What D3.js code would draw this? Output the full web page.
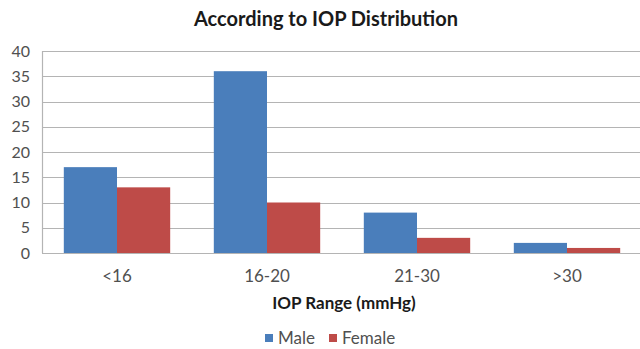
<!DOCTYPE html>
<html>
<head>
<meta charset="utf-8">
<script src="https://cdn.jsdelivr.net/npm/d3@7"></script>
<style>
  html, body { margin: 0; padding: 0; background: #fff; }
  svg { display: block; font-family: Lato, "Open Sans", sans-serif; }
</style>
</head>
<body>
<svg id="chart" width="640" height="349"></svg>
<script>
// IOP ranges and patient counts by sex
const categories = ["<16", "16-20", "21-30", ">30"];
const seriesNames = ["Male", "Female"];
const maleValues = [17, 36, 8, 2];
const femaleValues = [13, 10, 3, 1];
const yTicks = [0, 5, 10, 15, 20, 25, 30, 35, 40];
const colors = ["#4A7EBB", "#BE4B48"];

const rows = categories.map((c, i) => ({ cat: c, values: [maleValues[i], femaleValues[i]] }));

const svg = d3.select("#chart");
const plotLeft = 42, plotRight = 642, plotTop = 51, plotBottom = 253;

const x0 = d3.scaleBand().domain(categories).range([plotLeft, plotRight]).paddingInner(0).paddingOuter(0);
const x1 = d3.scaleBand().domain(seriesNames).range([0, x0.bandwidth()]).paddingInner(0).paddingOuter(0.41);
const y = d3.scaleLinear().domain([0, 40]).range([plotBottom, plotTop]);

// horizontal gridlines
svg.append("g")
  .selectAll("line")
  .data(yTicks)
  .join("line")
  .attr("x1", plotLeft).attr("x2", plotRight)
  .attr("y1", d => Math.round(y(d)) + 0.5).attr("y2", d => Math.round(y(d)) + 0.5)
  .attr("stroke", "#b4b4b4").attr("stroke-width", 1.2);

// value axis line
svg.append("line")
  .attr("x1", plotLeft + 0.5).attr("x2", plotLeft + 0.5)
  .attr("y1", plotTop).attr("y2", plotBottom)
  .attr("stroke", "#b4b4b4").attr("stroke-width", 1.2);

// y-axis tick labels
const yAxis = d3.axisLeft(y).tickValues(yTicks).tickSize(0).tickPadding(12);
const yg = svg.append("g").attr("transform", `translate(${plotLeft},0)`).call(yAxis);
yg.select(".domain").remove();
yg.selectAll("text").attr("font-size", 16).attr("fill", "#505050").attr("font-family", "Lato, sans-serif");

// bars
svg.append("g")
  .selectAll("g")
  .data(rows)
  .join("g")
  .attr("transform", d => `translate(${x0(d.cat)},0)`)
  .selectAll("rect")
  .data(d => d.values.map((v, i) => ({ name: seriesNames[i], v, i })))
  .join("rect")
  .attr("x", d => x1(d.name))
  .attr("width", x1.bandwidth())
  .attr("y", d => y(d.v))
  .attr("height", d => y(0) - y(d.v))
  .attr("fill", d => colors[d.i]);

// category axis labels
const xAxis = d3.axisBottom(x0).tickSize(0).tickPadding(17);
const xg = svg.append("g").attr("transform", `translate(0,${plotBottom})`).call(xAxis);
xg.select(".domain").remove();
xg.selectAll("text").attr("font-size", 17).attr("fill", "#505050").attr("font-family", "Lato, sans-serif");

// title
svg.append("text")
  .attr("x", 326).attr("y", 26)
  .attr("text-anchor", "middle")
  .attr("font-size", 20).attr("font-weight", "bold").attr("fill", "#1a1a1a")
  .text("According to IOP Distribution");

// axis title
svg.append("text")
  .attr("x", 344).attr("y", 309)
  .attr("text-anchor", "middle")
  .attr("font-size", 17).attr("font-weight", "bold").attr("fill", "#1a1a1a")
  .text("IOP Range (mmHg)");

// legend
const legendX = [265, 329];
const lg = svg.append("g").selectAll("g").data(seriesNames).join("g")
  .attr("transform", (d, i) => `translate(${legendX[i]},334)`);
lg.append("rect").attr("width", 8).attr("height", 8).attr("fill", (d, i) => colors[i]);
lg.append("text").attr("x", 13).attr("y", 10)
  .attr("font-size", 17).attr("fill", "#505050")
  .text(d => d);
</script>
</body>
</html>
